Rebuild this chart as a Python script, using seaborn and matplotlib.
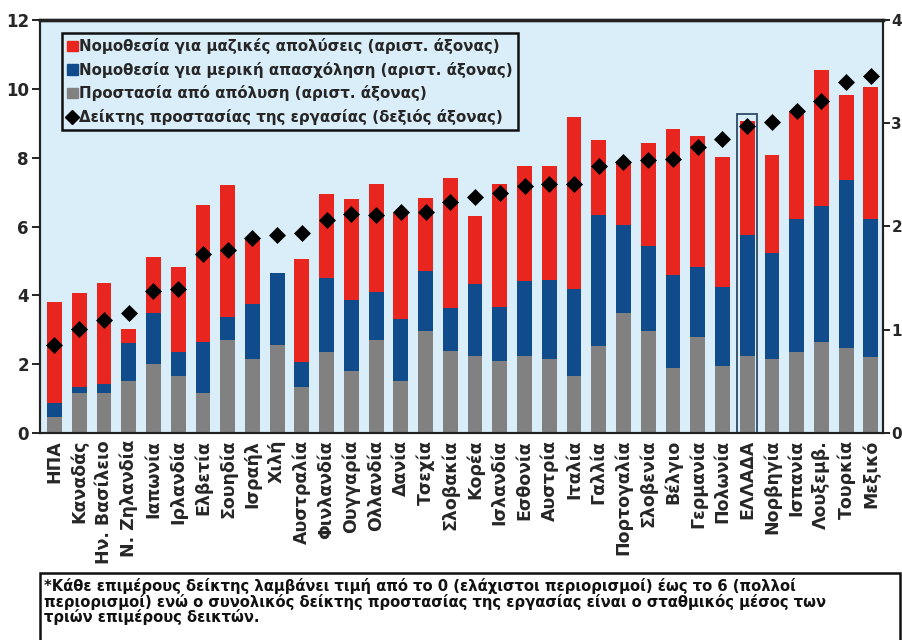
import numpy as np
import pandas as pd
import seaborn as sns
import matplotlib.pyplot as plt
from matplotlib.patches import Patch, Rectangle
from matplotlib.lines import Line2D

# values
countries = ['ΗΠΑ', 'Καναδάς', 'Ην. Βασίλειο', 'Ν. Ζηλανδία', 'Ιαπωνία', 'Ιρλανδία',
             'Ελβετία', 'Σουηδία', 'Ισραήλ', 'Χιλή', 'Αυστραλία', 'Φινλανδία',
             'Ουγγαρία', 'Ολλανδία', 'Δανία', 'Τσεχία', 'Σλοβακία', 'Κορέα',
             'Ισλανδία', 'Εσθονία', 'Αυστρία', 'Ιταλία', 'Γαλλία', 'Πορτογαλία',
             'Σλοβενία', 'Βέλγιο', 'Γερμανία', 'Πολωνία', 'ΕΛΛΑΔΑ', 'Νορβηγία',
             'Ισπανία', 'Λουξεμβ.', 'Τουρκία', 'Μεξικό']
dismissal = [0.47, 1.15, 1.15, 1.51, 2.00, 1.66, 1.15, 2.70, 2.14, 2.56, 1.35, 2.36,
             1.80, 2.70, 1.51, 2.95, 2.39, 2.25, 2.10, 2.25, 2.14, 1.66, 2.54, 3.50,
             2.95, 1.88, 2.80, 1.95, 2.24, 2.14, 2.35, 2.63, 2.46, 2.21]
part_time = [0.39, 0.20, 0.27, 1.10, 1.50, 0.70, 1.50, 0.68, 1.61, 2.08, 0.72, 2.14,
             2.07, 1.41, 1.80, 1.77, 1.23, 2.08, 1.55, 2.18, 2.31, 2.52, 3.80, 2.55,
             2.49, 2.71, 2.02, 2.30, 3.52, 3.08, 3.86, 3.96, 4.88, 4.02]
collective = [2.96, 2.71, 2.93, 0.40, 1.61, 2.46, 3.98, 3.83, 1.91, 0.00, 2.98, 2.45,
              2.93, 3.12, 3.08, 2.12, 3.78, 1.97, 3.58, 3.33, 3.31, 4.99, 2.18, 1.85,
              2.98, 4.24, 3.80, 3.76, 3.30, 2.87, 3.16, 3.96, 2.47, 3.82]
epl_index = [0.85, 1.01, 1.09, 1.16, 1.38, 1.39, 1.73, 1.77, 1.89, 1.92, 1.94, 2.06,
             2.12, 2.11, 2.14, 2.14, 2.24, 2.29, 2.32, 2.39, 2.41, 2.41, 2.59, 2.62,
             2.64, 2.65, 2.77, 2.85, 2.97, 3.01, 3.12, 3.22, 3.40, 3.46]

legend_labels = ['Νομοθεσία για μαζικές απολύσεις (αριστ. άξονας)',
                 'Νομοθεσία για μερική απασχόληση (αριστ. άξονας)',
                 'Προστασία από απόλυση (αριστ. άξονας)',
                 'Δείκτης προστασίας της εργασίας (δεξιός άξονας)']
note = ('*Κάθε επιμέρους δείκτης λαμβάνει τιμή από το 0 (ελάχιστοι περιορισμοί) έως το 6 (πολλοί\n'
        'περιορισμοί) ενώ ο συνολικός δείκτης προστασίας της εργασίας είναι ο σταθμικός μέσος των\n'
        'τριών επιμέρους δεικτών.')

RED = '#e8251f'
BLUE = '#104b8b'
GREY = '#818181'
BG = '#daeef9'

df = pd.DataFrame({'country': countries, 'grey': dismissal,
                   'blue': part_time, 'red': collective, 'epl': epl_index})
df['blue_top'] = df['grey'] + df['blue']
df['red_top'] = df['blue_top'] + df['red']

sns.set_theme(style='white')
plt.rcParams['font.family'] = ['DejaVu Sans']
plt.rcParams['font.weight'] = 'bold'

fig = plt.figure(figsize=(9.03, 6.4), dpi=100)
ax = fig.add_axes([40 / 903, 1 - 433 / 640, 843 / 903, 413 / 640])
ax.set_facecolor(BG)

# stacked look: draw totals first, then smaller sums over them
for col, c in [('red_top', RED), ('blue_top', BLUE), ('grey', GREY)]:
    sns.barplot(data=df, x='country', y=col, order=countries, color=c, saturation=1,
                width=0.6, errorbar=None, linewidth=0, ax=ax)

ax.set_xlim(-0.586, 33.49)
ax.set_ylim(0, 12)
ax.set_yticks(range(0, 13, 2))
ax.set_xlabel('')
ax.set_ylabel('')
ax.set_xticks(range(len(countries)))
ax.set_xticklabels(countries, rotation=90, fontsize=12.5, fontweight='bold')
ax.tick_params(axis='x', length=0, pad=5)
ax.tick_params(axis='y', direction='out', length=6, width=1.4, labelsize=12, pad=2,
               color='#222222')

# box around Greece
gi = countries.index('ΕΛΛΑΔΑ')
ax.add_patch(Rectangle((gi - 0.4, 0), 0.8, df['red_top'][gi] + 0.2, fill=False,
                       ec='#2e4a66', lw=1.3, zorder=3))

ax2 = ax.twinx()
sns.scatterplot(x=np.arange(len(countries)), y=df['epl'], marker='D', s=66,
                color='black', edgecolor='black', linewidth=0.5, zorder=5, ax=ax2)
ax2.set_ylim(0, 4)
ax2.set_yticks(range(0, 5))
ax2.set_ylabel('')
ax2.tick_params(axis='y', direction='out', length=5, width=1.4, labelsize=11, pad=1,
                color='#222222')

for a in (ax, ax2):
    for s in a.spines.values():
        s.set_color('#222222')
        s.set_linewidth(1.5)
    a.spines['top'].set_linewidth(2.4)
    for t in a.get_yticklabels():
        t.set_fontweight('bold')

handles = [Patch(color=RED), Patch(color=BLUE), Patch(color=GREY),
           Line2D([], [], marker='D', color='black', linestyle='none', markersize=7)]
leg = ax2.legend(handles, legend_labels, loc='upper left', bbox_to_anchor=(0.026, 0.968),
                 borderaxespad=0, fontsize=10.8, frameon=True, fancybox=False,
                 facecolor=BG, edgecolor='#111111', framealpha=1,
                 handlelength=0.7, handleheight=0.7, handletextpad=0.1,
                 labelspacing=0.5, borderpad=0.35)
leg.get_frame().set_linewidth(1.8)
for t in leg.get_texts():
    t.set_fontweight('bold')

# footnote box
fig.patches.append(Rectangle((40 / 903, -0.01), 860 / 903, 1 - 573 / 640 + 0.01,
                             transform=fig.transFigure, fill=False, ec='#111111', lw=1.8))
fig.text(44 / 903, 1 - 578 / 640, note, fontsize=10.6, fontweight='bold',
         va='top', ha='left', linespacing=0.98, color='#111111')

fig.savefig('out.png', dpi=100)
